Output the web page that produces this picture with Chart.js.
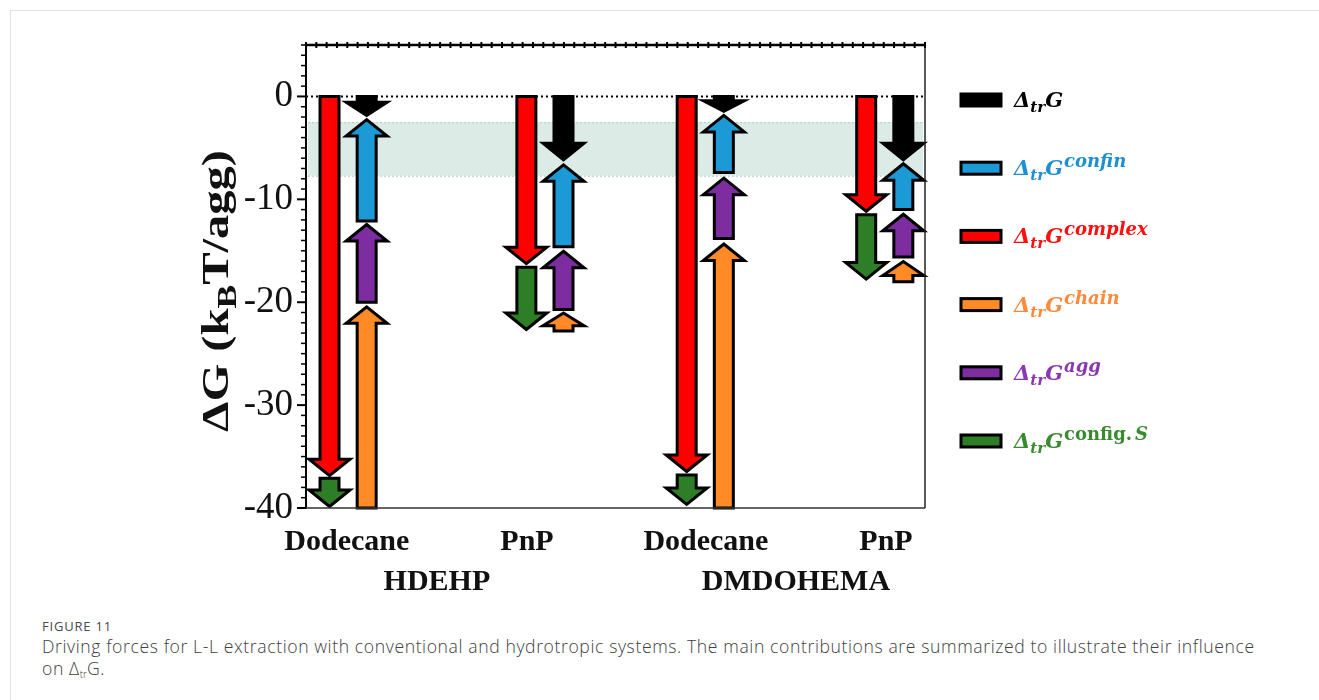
<!DOCTYPE html>
<html>
<head>
<meta charset="utf-8">
<script src="https://cdn.jsdelivr.net/npm/chart.js@4.4.0/dist/chart.umd.min.js"></script>
<style>
html,body{margin:0;padding:0;background:#fff;width:1319px;height:700px;overflow:hidden;}
#frame{position:absolute;left:10px;top:10px;width:1400px;height:800px;border-left:1px solid #e2e2e2;border-top:1px solid #e2e2e2;}
#wrap{position:absolute;left:0;top:0;width:1319px;height:600px;}
#cap{position:absolute;left:42px;top:617px;width:1270px;font-family:"Open Sans",sans-serif;color:#505050;}
#cap .fig{font-size:13px;letter-spacing:0.8px;line-height:18px;color:#4a4a4a;}
#cap .txt{font-size:17.6px;line-height:22px;font-weight:300;color:#404040;letter-spacing:0.6px;}
#cap sub{font-size:10px;vertical-align:-3px;line-height:0;letter-spacing:0;}
</style>
</head>
<body>
<div id="frame"></div>
<div id="wrap"><canvas id="c"></canvas></div>
<div id="cap">
  <div class="fig">FIGURE 11</div>
  <div class="txt">Driving forces for L-L extraction with conventional and hydrotropic systems. The main contributions are summarized to illustrate their influence<br>on Δ<sub>tr</sub>G.</div>
</div>
<script>
// ---------------- data ----------------
const categories = ['Dodecane', 'PnP', 'Dodecane', 'PnP'];
const systems = ['HDEHP', 'DMDOHEMA'];
const yTickValues = [0, -10, -20, -30, -40];
// each arrow: [start, end] in kBT/agg, one per category
const totalG   = [[0, -2.0],     [0, -6.3],      [0, -1.6],     [0, -6.3]];
const confinG  = [[-12.1, -2.1], [-14.6, -6.5],  [-7.4, -1.7],  [-11.0, -6.4]];
const complexG = [[0, -37.0],    [0, -16.4],     [0, -36.6],    [0, -11.3]];
const chainG   = [[-40, -20.3],  [-22.8, -20.9], [-40, -14.2],  [-18.0, -15.9]];
const aggG     = [[-20.0, -12.3],[-20.7, -14.9], [-13.8, -7.8], [-15.6, -11.3]];
const configG  = [[-37.1, -40],  [-16.6, -22.8], [-36.8, -39.8],[-11.5, -17.9]];
const bandRange = [-2.5, -7.7];
const legendSup = ['', 'confin', 'complex', 'chain', 'agg', 'config. S'];

// ---------------- layout (positions on the linear x axis) ----------------
const catCenter = [0.68, 3.86, 6.45, 9.35];
const labelPos  = [0.66, 3.57, 6.46, 9.37];
const colOffset = 0.30;

function series(arr, side) {
  return arr.map((v, i) => ({ x: catCenter[i] + side * colOffset, y: v }));
}

const datasets = [
  { label: 'ΔtrG',            data: series(totalG, 1),    backgroundColor: '#000000', textColor: '#000000' },
  { label: 'ΔtrG confin',     data: series(confinG, 1),   backgroundColor: '#1b9ad6', textColor: '#1e8fd3' },
  { label: 'ΔtrG complex',    data: series(complexG, -1), backgroundColor: '#ff0000', textColor: '#ff1010' },
  { label: 'ΔtrG chain',      data: series(chainG, 1),    backgroundColor: '#ff8a26', textColor: '#ff8a3c' },
  { label: 'ΔtrG agg',        data: series(aggG, 1),      backgroundColor: '#7e2da0', textColor: '#8a38b2' },
  { label: 'ΔtrG config. S',  data: series(configG, -1),  backgroundColor: '#2e7d27', textColor: '#3a8a2f' }
];
const drawOrder = [2, 5, 3, 4, 1, 0];

function drawArrow(ctx, x, yBase, yTip, color) {
  const dir = Math.sign(yTip - yBase);
  const len = Math.abs(yTip - yBase);
  const hl = Math.min(16.5, len * 0.65);
  const sw = 9.5, hw = 20.5;
  const tip = yTip - dir * 1.5;
  const yh = tip - dir * hl;
  ctx.save();
  ctx.beginPath();
  ctx.moveTo(x - sw, yBase);
  ctx.lineTo(x - sw, yh);
  ctx.lineTo(x - hw, yh);
  ctx.lineTo(x, tip);
  ctx.lineTo(x + hw, yh);
  ctx.lineTo(x + sw, yh);
  ctx.lineTo(x + sw, yBase);
  ctx.closePath();
  ctx.fillStyle = color;
  ctx.fill();
  ctx.lineWidth = 3;
  ctx.lineJoin = 'miter';
  ctx.strokeStyle = '#000';
  ctx.stroke();
  ctx.restore();
}

function drawRich(ctx, x, y, parts) {
  let cx = x;
  parts.forEach(p => {
    ctx.font = p.font;
    ctx.fillStyle = p.color;
    ctx.fillText(p.t, cx, y + (p.dy || 0));
    cx += ctx.measureText(p.t).width + (p.gap || 0);
  });
  return cx;
}

const arrowPlugin = {
  id: 'arrows',
  beforeDatasetsDraw(chart) {
    const { ctx, chartArea: a, scales: { y } } = chart;
    ctx.save();
    const y1 = y.getPixelForValue(bandRange[0]);
    const y2 = y.getPixelForValue(bandRange[1]);
    ctx.fillStyle = '#dcebe5';
    ctx.fillRect(a.left + 2, y1, a.right - a.left - 4, y2 - y1);
    ctx.strokeStyle = '#a8d0c2';
    ctx.lineWidth = 1;
    ctx.setLineDash([2, 2]);
    [y1, y2].forEach(yy => {
      ctx.beginPath(); ctx.moveTo(a.left + 2, yy + 0.5); ctx.lineTo(a.right - 2, yy + 0.5); ctx.stroke();
    });
    const y0 = y.getPixelForValue(0);
    ctx.strokeStyle = '#000';
    ctx.lineWidth = 2;
    ctx.setLineDash([2, 3]);
    ctx.beginPath(); ctx.moveTo(a.left, y0); ctx.lineTo(a.right, y0); ctx.stroke();
    ctx.restore();
  },
  beforeDatasetDraw() { return false; },
  afterDatasetsDraw(chart) {
    const ctx = chart.ctx;
    const y = chart.scales.y;
    drawOrder.forEach(di => {
      const meta = chart.getDatasetMeta(di);
      const ds = chart.data.datasets[di];
      meta.data.forEach((el, j) => {
        const v = ds.data[j].y;
        drawArrow(ctx, el.x, y.getPixelForValue(v[0]), y.getPixelForValue(v[1]), ds.backgroundColor);
      });
    });
  },
  afterDraw(chart) {
    const { ctx, chartArea: a, scales: { x, y } } = chart;
    ctx.save();
    ctx.strokeStyle = '#000';
    ctx.lineWidth = 2;
    ctx.beginPath(); ctx.moveTo(a.left, a.top); ctx.lineTo(a.left, a.bottom + 1); ctx.stroke();
    ctx.lineWidth = 2.5;
    ctx.beginPath(); ctx.moveTo(a.left, a.top); ctx.lineTo(a.right, a.top); ctx.stroke();
    ctx.strokeStyle = '#222';
    ctx.lineWidth = 1.5;
    ctx.beginPath(); ctx.moveTo(a.right, a.top); ctx.lineTo(a.right, a.bottom); ctx.stroke();
    ctx.strokeStyle = '#333';
    ctx.beginPath(); ctx.moveTo(a.left, a.bottom); ctx.lineTo(a.right, a.bottom); ctx.stroke();
    ctx.strokeStyle = '#000';
    ctx.lineWidth = 2;
    for (let v = 0; v <= x.max + 1e-6; v += 1 / 6) {
      const px = x.getPixelForValue(v);
      ctx.beginPath(); ctx.moveTo(px, a.top - 3); ctx.lineTo(px, a.top + 3); ctx.stroke();
    }
    for (let v = Math.ceil(y.min); v <= y.max; v++) {
      const py = y.getPixelForValue(v);
      const major = v % 10 === 0;
      ctx.lineWidth = major ? 2 : 1.5;
      ctx.beginPath(); ctx.moveTo(a.left - (major ? 9 : 5), py); ctx.lineTo(a.left, py); ctx.stroke();
    }
    // y title with subscript
    ctx.translate(216, 291);
    ctx.rotate(-Math.PI / 2);
    ctx.textBaseline = 'alphabetic';
    const big = 'bold 37px "Liberation Serif"', small = 'bold 27px "Liberation Serif"';
    const parts = [
      { t: 'ΔG (k', font: big, color: '#111' },
      { t: 'B', font: small, color: '#111', dy: 8 },
      { t: 'T/agg)', font: big, color: '#111' }
    ];
    let w = 0;
    parts.forEach(p => { ctx.font = p.font; w += ctx.measureText(p.t).width; });
    const sx = 282 / w;
    ctx.scale(sx, 1);
    drawRich(ctx, -w / 2, 12, parts);
    ctx.restore();

    // legend
    ctx.save();
    ctx.textBaseline = 'alphabetic';
    const mainF = 'bold italic 21px "DejaVu Serif"';
    const subF = 'bold italic 15px "DejaVu Serif"';
    const supF = 'bold italic 18px "DejaVu Serif"';
    const supUp = 'bold 18px "DejaVu Serif"';
    chart.data.datasets.forEach((ds, i) => {
      const cy = 100 + i * 68.2;
      ctx.fillStyle = ds.backgroundColor;
      ctx.fillRect(961, cy - 6, 40, 12);
      ctx.strokeStyle = '#000'; ctx.lineWidth = 3;
      ctx.strokeRect(961, cy - 6, 40, 12);
      const c = ds.textColor;
      const p = [
        { t: 'Δ', font: mainF, color: c },
        { t: 'tr', font: subF, color: c, dy: 5 },
        { t: 'G', font: mainF, color: c, gap: 1 }
      ];
      const s = legendSup[i];
      if (s.indexOf('config.') === 0) {
        p.push({ t: 'config.', font: supUp, color: c, dy: -8, gap: 3 });
        p.push({ t: s.slice(8), font: supF, color: c, dy: -8 });
      } else if (s) {
        p.push({ t: s, font: supF, color: c, dy: -8 });
      }
      drawRich(ctx, 1014, cy + 7, p);
    });
    ctx.restore();
  }
};

new Chart(document.getElementById('c'), {
  type: 'bar',
  data: { datasets },
  options: {
    responsive: true,
    maintainAspectRatio: false,
    animation: false,
    grouped: false,
    barThickness: 20,
    layout: { padding: { left: 0, top: 45, right: 394, bottom: 0 } },
    plugins: { legend: { display: false }, tooltip: { enabled: false } },
    scales: {
      x: {
        type: 'linear', position: 'bottom', min: 0, max: 10, offset: false,
        grid: { display: false }, border: { display: false },
        afterBuildTicks: s => { s.ticks = labelPos.map(v => ({ value: v })); },
        afterFit: s => { s.height = 44; },
        ticks: {
          autoSkip: false, maxRotation: 0, minRotation: 0, padding: 8,
          color: '#111', font: { family: '"Liberation Serif"', size: 30, weight: 'bold' },
          callback: (v, i) => categories[i]
        }
      },
      x2: {
        type: 'linear', position: 'bottom', min: 0, max: 10, offset: false,
        grid: { display: false }, border: { display: false },
        afterBuildTicks: s => {
          s.ticks = systems.map((n, k) => ({ value: (labelPos[2 * k] + labelPos[2 * k + 1]) / 2 }));
        },
        afterFit: s => { s.height = 48; },
        ticks: {
          autoSkip: false, maxRotation: 0, minRotation: 0, padding: 4,
          color: '#111', font: { family: '"Liberation Serif"', size: 30, weight: 'bold' },
          callback: (v, i) => systems[i]
        }
      },
      y: {
        type: 'linear', position: 'left', min: -40, max: 5, stacked: false,
        grid: { display: false }, border: { display: false },
        afterBuildTicks: s => { s.ticks = yTickValues.map(v => ({ value: v })); },
        afterFit: s => { s.width = 306; },
        ticks: {
          padding: 5, color: '#111',
          font: { family: '"Liberation Serif"', size: 37 },
          callback: v => String(v)
        }
      }
    }
  },
  plugins: [arrowPlugin]
});
</script>
</body>
</html>
